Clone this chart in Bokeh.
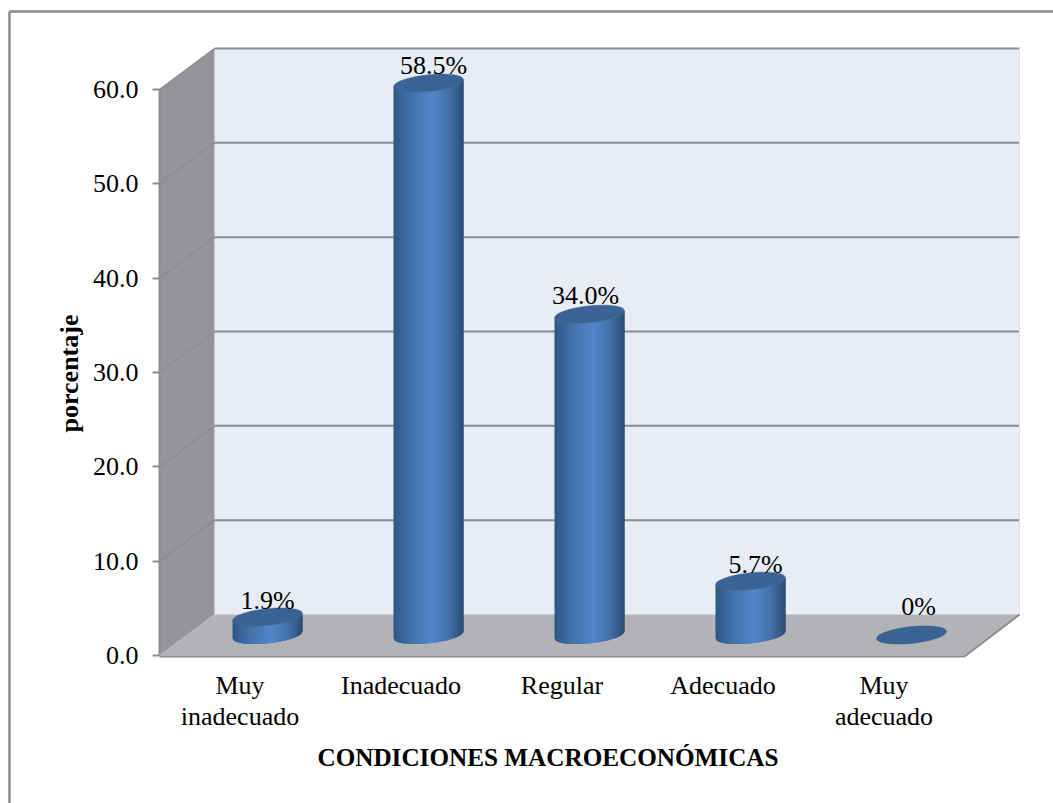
from math import pi, sqrt

from bokeh.core.properties import value
from bokeh.embed import file_html
from bokeh.models import ColumnDataSource, FixedTicker, Range1d
from bokeh.plotting import figure
from bokeh.resources import INLINE

# Survey results
categories = ["Muy\ninadecuado", "Inadecuado", "Regular", "Adecuado", "Muy\nadecuado"]
percentages = [1.9, 58.5, 34.0, 5.7, 0.0]
value_labels = ["1.9%", "58.5%", "34.0%", "5.7%", "0%"]
y_ticks = [0, 10, 20, 30, 40, 50, 60]
y_title = "porcentaje"
x_title = "CONDICIONES MACROECONÓMICAS"

# Small per-label shifts (pixels) that keep each text clear of its cylinder
label_shift_x = [0, 5, -4, 5, 7]
label_lift = [17, 18, 19, 17, 29]

# Canvas geometry, in pixels
WIDTH, HEIGHT = 1053, 803
PX_PER_CAT = 161.0
PX_PER_UNIT = 9.433
ORIGIN_X = 239.5  # pixel of the first category on the front edge
ORIGIN_Y = 655.0  # pixel of value 0 on the front edge
DEPTH_X, DEPTH_Y = 55.0, 41.0  # oblique offset from front to back wall
RADIUS_X, RADIUS_Y = 35.0, 8.4  # cylinder cross-section
TILT = 0.1  # rise of the ellipse per pixel moving right
STRIPS = 70

WALL_BACK = "#e8ecf5"
WALL_SIDE = "#939598"
FLOOR = "#b1b3b6"
RULE = "#8b8c8e"
CAP = "#3a6393"
SHADE = [(0.0, "#2e5785"), (0.12, "#386499"), (0.3, "#4675b1"), (0.55, "#5286c9"),
         (0.78, "#4572ab"), (0.92, "#35598a"), (1.0, "#2a4a6e")]
FONT = "Liberation Serif"

DX = DEPTH_X / PX_PER_CAT
DY = DEPTH_Y / PX_PER_UNIT


def px_x(d):
    return d / PX_PER_CAT


def px_y(d):
    return d / PX_PER_UNIT


def mix(t):
    for (t0, c0), (t1, c1) in zip(SHADE, SHADE[1:]):
        if t <= t1:
            f = (t - t0) / (t1 - t0)
            a = [int(c0[i:i + 2], 16) for i in (1, 3, 5)]
            b = [int(c1[i:i + 2], 16) for i in (1, 3, 5)]
            return "#%02x%02x%02x" % tuple(round(p + (q - p) * f) for p, q in zip(a, b))
    return SHADE[-1][1]


def lower_edge(dx):
    return TILT * dx - RADIUS_Y * sqrt(max(0.0, 1 - (dx / RADIUS_X) ** 2))


def upper_edge(dx):
    return TILT * dx + RADIUS_Y * sqrt(max(0.0, 1 - (dx / RADIUS_X) ** 2))


p = figure(
    width=WIDTH, height=HEIGHT,
    x_range=Range1d(-ORIGIN_X / PX_PER_CAT, (WIDTH - ORIGIN_X) / PX_PER_CAT),
    y_range=Range1d((ORIGIN_Y - HEIGHT) / PX_PER_UNIT, ORIGIN_Y / PX_PER_UNIT),
    output_backend="svg", toolbar_location=None, min_border=0,
    outline_line_color=None, background_fill_color="white", border_fill_color="white",
)
p.grid.visible = False

x_left = -0.5
x_right = len(categories) - 0.5
y_top = max(y_ticks)

# Walls and floor of the oblique chart box
p.patch([x_left + DX, x_right + DX, x_right + DX, x_left + DX], [DY, DY, y_top + DY, y_top + DY],
        fill_color=WALL_BACK, line_color=None)
p.patch([x_left, x_left + DX, x_left + DX, x_left], [0, DY, y_top + DY, y_top],
        fill_color=WALL_SIDE, line_color=None)
p.patch([x_left, x_right, x_right + DX, x_left + DX], [0, 0, DY, DY],
        fill_color=FLOOR, line_color=None)

# Gridlines on the back wall and their continuation across the side wall
rule_values = y_ticks[1:]
p.segment([x_left + DX] * len(rule_values), [v + DY for v in rule_values],
          [x_right + DX] * len(rule_values), [v + DY for v in rule_values],
          line_color=RULE, line_width=2)
p.segment([x_left] * len(rule_values), rule_values,
          [x_left + DX] * len(rule_values), [v + DY for v in rule_values],
          line_color=RULE, line_width=1.5)
p.segment([x_right + DX], [y_top + DY], [x_right + DX], [DY], line_color="#dfe1e6", line_width=1)
p.line([x_left, x_right, x_right + DX], [px_y(-1), px_y(-1), DY], line_color=RULE, line_width=2)

# Cylinders: overlapping shaded strips for the body, then an ellipse for the cap
for i, v in enumerate(percentages):
    cx = i + DX / 2
    base = DY / 2
    top = base + v
    if v > 0:
        xs, ys, colors = [], [], []
        for k in range(STRIPS):
            # Every strip runs on under the next one so no seam shows between them
            a = -RADIUS_X + 2 * RADIUS_X * k / STRIPS
            b = -RADIUS_X + 2 * RADIUS_X * min(k + 2, STRIPS) / STRIPS
            xs.append([cx + px_x(a), cx + px_x(b), cx + px_x(b), cx + px_x(a)])
            ys.append([top + px_y(lower_edge(a)), top + px_y(lower_edge(b)),
                       base + px_y(lower_edge(b)), base + px_y(lower_edge(a))])
            colors.append(mix((k + 0.5) / STRIPS))
        p.patches(xs, ys, fill_color=colors, line_color=None)
    n = 64
    ring = [-RADIUS_X + 2 * RADIUS_X * j / n for j in range(n + 1)]
    cap_x = [cx + px_x(d) for d in ring] + [cx + px_x(d) for d in reversed(ring)]
    cap_y = [top + px_y(upper_edge(d)) for d in ring] + [top + px_y(lower_edge(d)) for d in reversed(ring)]
    p.patch(cap_x, cap_y, fill_color=CAP, line_color=CAP, line_width=0.5)

# Value labels above each cylinder
labels = ColumnDataSource(dict(
    x=[i + DX / 2 for i in range(len(percentages))],
    y=[DY / 2 + v for v in percentages],
    text=value_labels,
    dx=label_shift_x,
    dy=[-lift for lift in label_lift],
))
p.text("x", "y", text="text", source=labels, x_offset="dx", y_offset="dy",
       text_font=value(FONT), text_font_size="26px", text_color="black",
       text_align="center", text_baseline="alphabetic")

# Axes sit on the front edge of the box
yaxis = p.yaxis[0]
yaxis.fixed_location = x_left
yaxis.bounds = (0, max(y_ticks))
yaxis.ticker = FixedTicker(ticks=y_ticks)
yaxis.major_label_overrides = {t: f"{t:.1f}" for t in y_ticks}
yaxis.axis_line_color = RULE
yaxis.axis_line_width = 2
yaxis.major_tick_line_color = RULE
yaxis.major_tick_line_width = 2
yaxis.major_tick_out = 7
yaxis.major_tick_in = 0
yaxis.minor_tick_line_color = None
yaxis.major_label_standoff = 14
yaxis.major_label_text_font = FONT
yaxis.major_label_text_font_size = "26px"
yaxis.major_label_text_color = "black"

xaxis = p.xaxis[0]
xaxis.fixed_location = 0
xaxis.ticker = FixedTicker(ticks=list(range(len(categories))))
xaxis.major_label_overrides = dict(enumerate(categories))
xaxis.axis_line_color = None
xaxis.major_tick_line_color = None
xaxis.minor_tick_line_color = None
xaxis.major_label_standoff = 9
xaxis.major_label_text_font = FONT
xaxis.major_label_text_font_size = "26px"
xaxis.major_label_text_line_height = 1.1
xaxis.major_label_text_color = "black"

# Axis titles
p.text([px_x(547.5 - ORIGIN_X)], [px_y(655 - 757)], text=[x_title], text_font=value(FONT),
       text_font_size="25.2px", text_font_style="bold", text_color="black",
       text_align="center", text_baseline="alphabetic")
p.text([px_x(69 - ORIGIN_X)], [px_y(655 - 373)], text=[y_title], text_font=value(FONT),
       text_font_size="26px", text_font_style="bold", text_color="black", angle=pi / 2,
       text_align="center", text_baseline="middle")

# Outer rule along the top and left of the page
edge_x = px_x(9 - ORIGIN_X)
edge_y = px_y(655 - 11)
p.segment([edge_x, edge_x], [edge_y, edge_y],
          [px_x(WIDTH - ORIGIN_X), edge_x], [edge_y, px_y(655 - HEIGHT)],
          line_color="#8c8c8c", line_width=2.5)

open("out.html", "w").write(file_html(p, INLINE))
